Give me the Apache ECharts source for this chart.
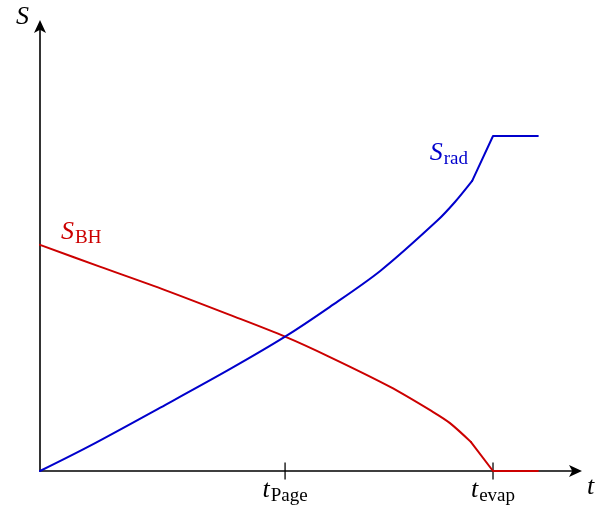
<!DOCTYPE html>
<html>
<head>
<meta charset="utf-8">
<style>
  html, body { margin: 0; padding: 0; background: #fff; }
  #chart { width: 598px; height: 511px; }
</style>
<script src="https://cdn.jsdelivr.net/npm/echarts@6/dist/echarts.min.js"></script>
</head>
<body>
<div id="chart"></div>
<script>
// Time in units of the evaporation time, entropy in units of the final radiation entropy.
const tBH  = [0, 0.132, 0.276, 0.419, 0.541, 0.640, 0.773, 0.868, 0.905, 0.951, 1.0, 1.099];
const sBH  = [0.675, 0.610, 0.540, 0.466, 0.401, 0.340, 0.251, 0.176, 0.143, 0.087, 0, 0];

const tRad = [0, 0.110, 0.276, 0.419, 0.541, 0.640, 0.751, 0.876, 0.916, 0.954, 1.0, 1.099];
const sRad = [0, 0.075, 0.197, 0.304, 0.401, 0.490, 0.597, 0.746, 0.803, 0.866, 1.0, 1.0];

// Index where each curve stops bending and turns into straight segments
const bhKink = 9;
const radKink = 9;

// Marked times on the t axis
const tickTimes  = [0.541, 1.0];
const tickNames  = ['Page', 'evap'];

const tMax = 1.1854;
const sMax = 1.3313;

const RED = '#cc0000';
const BLUE = '#0000cc';
const SERIF = '"Liberation Serif", "DejaVu Serif", serif';
const MAIN = 26, SUB = 19;

function richStyles(color) {
  return {
    i:   { fontFamily: SERIF, fontStyle: 'italic', fontSize: MAIN, color: color,
           verticalAlign: 'top', lineHeight: 30 },
    sub: { fontFamily: SERIF, fontSize: SUB, color: color,
           verticalAlign: 'top', lineHeight: 30, padding: [10, 0, 0, 1] }
  };
}

function pairs(xs, ys) { return xs.map((x, i) => [x, ys[i]]); }

const redAll = pairs(tBH, sBH);
const redCurve = redAll.slice(0, bhKink + 1);
const redTail = redAll.slice(bhKink);
redCurve[0] = {
  value: redCurve[0],
  label: {
    show: true, position: 'right', offset: [16, -11],
    formatter: '{i|S}{sub|BH}', rich: richStyles(RED)
  }
};

const blueAll = pairs(tRad, sRad);
const blueCurve = blueAll.slice(0, radKink + 1);
const blueTail = blueAll.slice(radKink);
const iTop = tRad.indexOf(1.0) - radKink;
blueTail[iTop] = {
  value: blueTail[iTop],
  label: {
    show: true, position: 'left', offset: [-20, 19],
    formatter: '{i|S}{sub|rad}', rich: richStyles(BLUE)
  }
};

function lineSeries(name, data, color, smooth) {
  return {
    name: name, type: 'line', data: data,
    showSymbol: true, symbol: 'circle', symbolSize: 0, clip: false,
    smooth: smooth,
    lineStyle: { color: color, width: 2, join: 'round', cap: 'round' },
    itemStyle: { color: color }, z: 3
  };
}

const chart = echarts.init(document.getElementById('chart'), null, { renderer: 'canvas' });

chart.setOption({
  animation: false,
  backgroundColor: '#ffffff',
  grid: { left: 40, top: 25, right: 21, bottom: 40, containLabel: false },
  xAxis: {
    type: 'value', min: 0, max: tMax,
    name: 't', nameLocation: 'end', nameGap: 10,
    nameTextStyle: { fontFamily: SERIF, fontStyle: 'italic', fontSize: MAIN, color: '#000',
                     align: 'left', verticalAlign: 'top', padding: [3, 0, 0, 0] },
    axisLine: { show: true, lineStyle: { color: '#000', width: 1.6 },
                symbol: ['none', 'arrow'], symbolSize: [9, 13], symbolOffset: [0, 5] },
    axisTick: { show: false },
    splitLine: { show: false },
    axisLabel: {
      show: true, margin: 6,
      customValues: tickTimes,
      formatter: function (v) {
        const k = tickTimes.indexOf(v);
        return '{i|t}{sub|' + tickNames[k] + '}';
      },
      rich: richStyles('#000')
    }
  },
  yAxis: {
    type: 'value', min: 0, max: sMax,
    name: 'S', nameLocation: 'end', nameGap: 8,
    nameTextStyle: { fontFamily: SERIF, fontStyle: 'italic', fontSize: MAIN, color: '#000',
                     align: 'right', verticalAlign: 'middle', padding: [0, 11, 0, 0] },
    axisLine: { show: true, lineStyle: { color: '#000', width: 1.6 },
                symbol: ['none', 'arrow'], symbolSize: [9, 13], symbolOffset: [0, 5] },
    axisTick: { show: false },
    axisLabel: { show: false },
    splitLine: { show: false }
  },
  series: [
    lineSeries('S_BH', redCurve, RED, 0.3),
    lineSeries('S_BH tail', redTail, RED, false),
    lineSeries('S_rad', blueCurve, BLUE, 0.3),
    lineSeries('S_rad tail', blueTail, BLUE, false),
    {
      // tick marks crossing the t axis at the marked times
      name: 'ticks', type: 'scatter', silent: true, clip: false,
      data: tickTimes.map(t => [t, 0]),
      symbol: 'rect', symbolSize: [1.6, 17],
      itemStyle: { color: '#000' }, z: 2
    }
  ]
});
</script>
</body>
</html>
